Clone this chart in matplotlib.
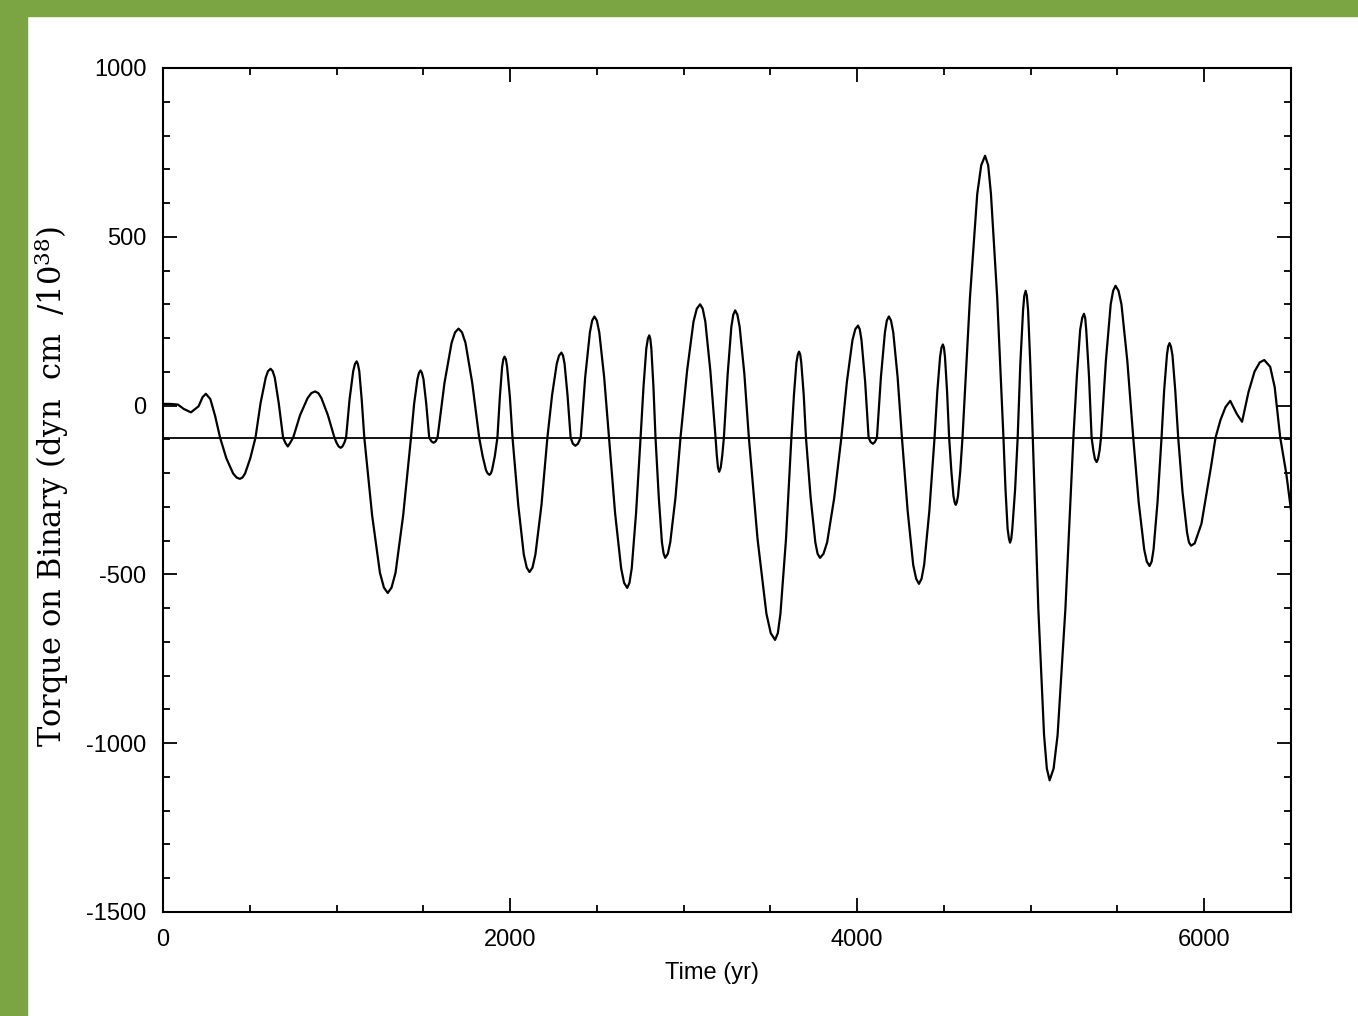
import matplotlib
matplotlib.use("Agg")
import numpy as np
from matplotlib import pyplot as plt
from matplotlib.patches import Rectangle
from matplotlib.ticker import MultipleLocator

plt.rcParams['axes.unicode_minus'] = False
plt.rcParams['mathtext.fontset'] = 'dejavuserif'

# Torque history (time in yr, torque in 1e38 dyn cm)
# one line per swing, the two lists line up row by row
time_yr = [
    0, 40, 86, 120, 161, 205, 228, 247, 273, 300, 329,
    365, 404, 424, 443, 458, 473, 503, 533,
    562, 592, 605, 620, 632, 644, 667, 692,
    705, 719, 733, 750,
    790, 833, 855, 876, 895, 913, 950, 988,
    1000, 1012, 1024, 1034, 1045, 1055,
    1075, 1096, 1106, 1116, 1123, 1131, 1145, 1160,
    1205, 1250, 1273, 1295, 1317, 1340, 1384, 1429,
    1447, 1466, 1475, 1484, 1492, 1501, 1517, 1534,
    1547, 1559, 1571, 1582,
    1622, 1663, 1683, 1703, 1723, 1743, 1782, 1822,
    1842, 1861, 1871, 1881, 1889, 1896, 1912, 1927,
    1941, 1954, 1961, 1968, 1976, 1983, 1999, 2014,
    2047, 2079, 2096, 2112, 2129, 2146, 2181, 2215,
    2242, 2269, 2282, 2296, 2305, 2314, 2331, 2349,
    2362, 2376, 2391, 2407,
    2433, 2460, 2473, 2486, 2500, 2514, 2542, 2570,
    2605, 2640, 2657, 2675, 2688, 2701, 2726, 2752,
    2769, 2785, 2794, 2802, 2808, 2814, 2826, 2838,
    2857, 2875, 2885, 2894, 2909, 2923, 2953, 2982,
    3020, 3057, 3076, 3095, 3110, 3125, 3154, 3184,
    3191, 3198, 3205, 3214, 3223, 3232,
    3254, 3275, 3286, 3297, 3310, 3323, 3350, 3376,
    3426, 3477, 3502, 3527, 3543, 3558, 3590, 3621,
    3636, 3650, 3658, 3665, 3672, 3678, 3692, 3705,
    3732, 3759, 3772, 3786, 3806, 3827, 3868, 3909,
    3941, 3973, 3989, 4005, 4015, 4025, 4046, 4066,
    4078, 4091, 4102, 4114,
    4137, 4160, 4171, 4183, 4195, 4208, 4233, 4258,
    4291, 4323, 4340, 4356, 4371, 4386, 4416, 4446,
    4462, 4478, 4486, 4494, 4500, 4506, 4518, 4530,
    4543, 4555, 4562, 4568, 4574, 4581, 4594, 4607,
    4650, 4692, 4715, 4737, 4755, 4771, 4807, 4843,
    4855, 4867, 4875, 4881, 4888, 4894, 4910, 4925,
    4940, 4956, 4963, 4971, 4978, 4985, 4998, 5012,
    5044, 5077, 5093, 5109, 5132, 5155, 5200, 5246,
    5266, 5285, 5297, 5307, 5314, 5320, 5336, 5351,
    5361, 5370, 5380, 5388, 5397, 5405,
    5433, 5461, 5475, 5489, 5506, 5523, 5557, 5591,
    5622, 5654, 5669, 5685, 5697, 5708, 5731, 5754,
    5769, 5785, 5792, 5800, 5808, 5817, 5833, 5850,
    5875, 5901, 5912, 5924, 5945, 5984, 6041, 6065,
    6094, 6123, 6150, 6188, 6218, 6255, 6290, 6320, 6346,
    6380, 6406, 6438, 6473, 6500,
]
torque = [
    5, 5, 3, -10, -20, -2, 25, 35, 19, -30, -95,
    -156, -201, -213, -217, -213, -201, -156, -95,
    7, 83, 102, 109, 102, 83, 7, -95,
    -110, -121, -110, -95,
    -28, 22, 37, 42, 37, 22, -28, -95,
    -110, -121, -125, -121, -110, -95,
    18, 102, 123, 131, 123, 102, 18, -95,
    -325, -495, -539, -555, -539, -495, -325, -95,
    5, 78, 97, 104, 97, 78, 5, -95,
    -106, -110, -106, -95,
    67, 186, 217, 228, 217, 186, 67, -95,
    -150, -191, -201, -205, -201, -191, -150, -95,
    25, 114, 137, 145, 137, 114, 25, -95,
    -294, -441, -480, -493, -480, -441, -294, -95,
    31, 124, 148, 157, 148, 124, 31, -95,
    -113, -119, -113, -95,
    85, 217, 252, 264, 252, 217, 85, -95,
    -318, -482, -525, -540, -525, -482, -318, -95,
    57, 169, 198, 208, 198, 169, 57, -95,
    -273, -405, -439, -451, -439, -405, -273, -95,
    103, 249, 287, 300, 287, 249, 103, -95,
    -146, -183, -196, -183, -146, -95,
    94, 233, 269, 282, 269, 233, 94, -95,
    -395, -616, -674, -694, -674, -616, -395, -95,
    33, 127, 151, 160, 151, 127, 33, -95,
    -273, -405, -439, -451, -439, -405, -273, -95,
    71, 194, 226, 237, 226, 194, 71, -95,
    -108, -113, -108, -95,
    85, 217, 252, 264, 252, 217, 85, -95,
    -312, -472, -513, -528, -513, -472, -312, -95,
    43, 145, 172, 181, 172, 145, 43, -95,
    -195, -268, -287, -294, -287, -268, -195, -95,
    320, 627, 712, 740, 712, 627, 320, -95,
    -250, -365, -395, -406, -395, -365, -250, -95,
    120, 282, 325, 340, 325, 282, 120, -95,
    -602, -976, -1075, -1110, -1075, -976, -602, -95,
    87, 224, 260, 272, 260, 224, 87, -95,
    -133, -158, -167, -158, -133, -95,
    131, 300, 340, 355, 340, 300, 131, -95,
    -285, -426, -462, -475, -462, -426, -285, -95,
    45, 149, 175, 185, 175, 149, 45, -95,
    -257, -376, -405, -415, -408, -350, -175, -95,
    -42, -4, 14, -25, -48, 40, 101, 128, 135,
    115, 55, -95, -202, -310,
]
mean_torque = -95  # horizontal reference line

x_ticks = [0, 2000, 4000, 6000]
y_ticks = [-1500, -1000, -500, 0, 500, 1000]

fig = plt.figure(figsize=(13.58, 10.16), dpi=100)
ax = fig.add_axes([163 / 1358, 1 - 912 / 1016, 1128 / 1358, 844 / 1016])

# Green frame around the slide
green = '#7ba443'
fig.add_artist(Rectangle((0, 1 - 16 / 1016), 1, 16 / 1016, transform=fig.transFigure,
                         color=green, zorder=10))
fig.add_artist(Rectangle((0, 0), 27 / 1358, 1, transform=fig.transFigure,
                         color=green, zorder=10))

# Torque curve and its mean
ax.plot(time_yr, torque, color='black', lw=1.6, solid_joinstyle='round')
ax.axhline(mean_torque, color='black', lw=1.3)

ax.set_xlim(0, 6500)
ax.set_ylim(-1500, 1000)
ax.set_xticks(x_ticks)
ax.set_yticks(y_ticks)
ax.xaxis.set_minor_locator(MultipleLocator(500))
ax.yaxis.set_minor_locator(MultipleLocator(100))

ax.tick_params(which='both', direction='in', top=True, right=True, width=1.3,
               labelsize=17)
ax.tick_params(which='major', length=10)
ax.tick_params(which='minor', length=5)
ax.tick_params(axis='y', pad=12)
ax.tick_params(axis='x', pad=12)
for lab in ax.get_xticklabels() + ax.get_yticklabels():
    lab.set_fontfamily('Liberation Sans')
for sp in ax.spines.values():
    sp.set_linewidth(1.5)

ax.set_xlabel('Time (yr)', fontsize=17, family='Liberation Sans')
ax.xaxis.label.set_va('center')
ax.xaxis.set_label_coords(0.487, -0.072)

ax.set_ylabel(r'Torque on Binary (dyn  cm  /10$^{38}$)', fontsize=22, family='DejaVu Serif')
ax.yaxis.label.set_va('center')
ax.yaxis.set_label_coords(-0.0985, 0.504)

fig.savefig('out.png', dpi=100)
